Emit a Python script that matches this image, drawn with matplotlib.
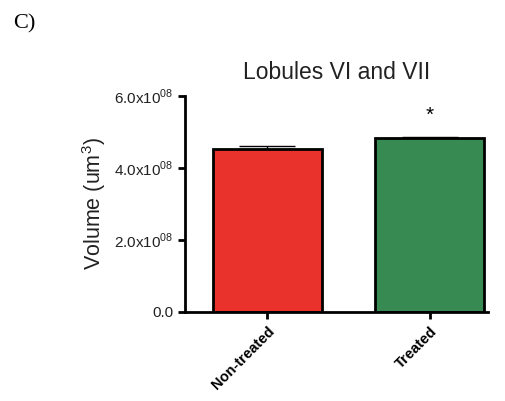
import matplotlib
matplotlib.use("Agg")
import matplotlib.pyplot as plt
import numpy as np

categories = ["Non-treated", "Treated"]
means = [4.52e8, 4.84e8]
sems = [0.10e8, 0.03e8]
colors = ["#E8322B", "#378A52"]
yticks = [0, 2e8, 4e8, 6e8]
ytick_labels = ["0.0", r"2.0x10$^{08}$", r"4.0x10$^{08}$", r"6.0x10$^{08}$"]

plt.rcParams['font.family'] = ['Liberation Sans', 'DejaVu Sans']
plt.rcParams['mathtext.fontset'] = 'custom'
plt.rcParams['mathtext.rm'] = 'Liberation Sans'

fig = plt.figure(figsize=(5.06, 4.01), dpi=100)
ax = fig.add_axes([0.366, 0.222, 0.598, 0.539])
x = np.arange(len(categories))
ax.bar(x, means, width=0.67, color=colors, edgecolor="black", linewidth=2, zorder=2)
ax.errorbar(x, means, yerr=[np.zeros(2), sems], fmt="none", ecolor="black",
            elinewidth=1.0, capsize=20, capthick=1.0, zorder=1)
ax.set_xlim(-0.503, 1.356)
ax.set_ylim(0, 6e8)
ax.set_yticks(yticks)
ax.set_yticklabels(ytick_labels, fontsize=11, color="#222222")
ax.set_xticks(x)
ax.set_xticklabels(categories, rotation=45, ha="right", rotation_mode="anchor",
                   fontsize=10.5, fontweight="bold")
for s in ["top", "right"]:
    ax.spines[s].set_visible(False)
for s in ["left", "bottom"]:
    ax.spines[s].set_linewidth(2)
ax.tick_params(axis="both", width=2, length=5)
ax.set_ylabel("Volume (um$^3$)", fontsize=15.5, color="#222222", labelpad=4)
ax.set_title("Lobules VI and VII", fontsize=16.5, color="#222222", pad=12)
ax.text(1, means[1] + sems[1] + 0.6e8, "*", ha="center", va="center", fontsize=15)
fig.text(0.025, 0.93, "C)", family="Liberation Serif", fontsize=16)
fig.savefig("out.png", dpi=100)
